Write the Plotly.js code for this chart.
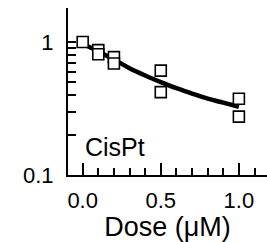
<!DOCTYPE html>
<html>
<head>
<meta charset="utf-8">
<script src="https://cdn.plot.ly/plotly-3.0.1.min.js"></script>
<style>html,body{margin:0;padding:0;background:#fff;overflow:hidden;}</style>
</head>
<body>
<div id="chart" style="width:267px;height:242px;"></div>
<script>
// Measured data (open squares)
const doseData = [0.0, 0.1, 0.1, 0.2, 0.2, 0.5, 0.5, 1.0, 1.0];
const survivalData = [1.0, 0.87, 0.81, 0.77, 0.69, 0.61, 0.42, 0.375, 0.275];

// Fitted curve
const doseFit = [0.0, 0.1, 0.2, 0.3, 0.4, 0.5, 0.6, 0.7, 0.8, 0.9, 1.0];
const survivalFit = [0.97, 0.85, 0.74, 0.635, 0.56, 0.50, 0.45, 0.41, 0.375, 0.35, 0.326];

// Axis ticks
const xTickVals = [0.0, 0.5, 1.0];
const xTickText = ["0.0", "0.5", "1.0"];
const yTickVals = [0.1, 0.2, 0.3, 0.4, 0.5, 0.6, 0.7, 0.8, 0.9, 1];
const yTickText = ["0.1", "", "", "", "", "", "", "", "", "1"];

const font = "Liberation Sans, Arial, sans-serif";

const traces = [
  {
    x: doseFit, y: survivalFit, type: "scatter", mode: "lines",
    line: {color: "#000", width: 4.5, shape: "spline"},
    hoverinfo: "skip", showlegend: false
  },
  {
    x: doseData, y: survivalData, type: "scatter", mode: "markers",
    marker: {symbol: "square", size: 11, color: "#fff", line: {color: "#000", width: 1.6}},
    showlegend: false
  }
];

const layout = {
  width: 267, height: 242,
  margin: {l: 68, r: 0, t: 8, b: 67},
  paper_bgcolor: "#fff", plot_bgcolor: "#fff",
  font: {family: font, color: "#000", size: 22},
  showlegend: false,
  xaxis: {
    range: [-0.094, 1.18],
    tickvals: xTickVals, ticktext: xTickText,
    ticks: "inside", ticklen: 12, tickwidth: 2, tickcolor: "#000",
    minor: {dtick: 0.1, tick0: 0, ticks: "inside", ticklen: 7, tickwidth: 2, tickcolor: "#000", showgrid: false},
    showline: true, linecolor: "#000", linewidth: 2,
    showgrid: false, zeroline: false,
    tickfont: {size: 22},
    ticklabelstandoff: 5,
    title: {text: "Dose (μM)", font: {size: 27}, standoff: 3}
  },
  yaxis: {
    type: "log",
    range: [-1, 0.256],
    tickvals: yTickVals, ticktext: yTickText,
    ticks: "inside", ticklen: 8, tickwidth: 2, tickcolor: "#000",
    showline: true, linecolor: "#000", linewidth: 2,
    showgrid: false, zeroline: false,
    tickfont: {size: 22},
    ticklabelstandoff: 8
  },
  annotations: [
    {
      x: 0.005, y: Math.log10(0.162), xref: "x", yref: "y",
      text: "CisPt", showarrow: false, xanchor: "left", yanchor: "middle",
      font: {size: 25, family: font, color: "#000"}
    }
  ]
};

Plotly.newPlot("chart", traces, layout, {displayModeBar: false, staticPlot: true});
</script>
</body>
</html>
